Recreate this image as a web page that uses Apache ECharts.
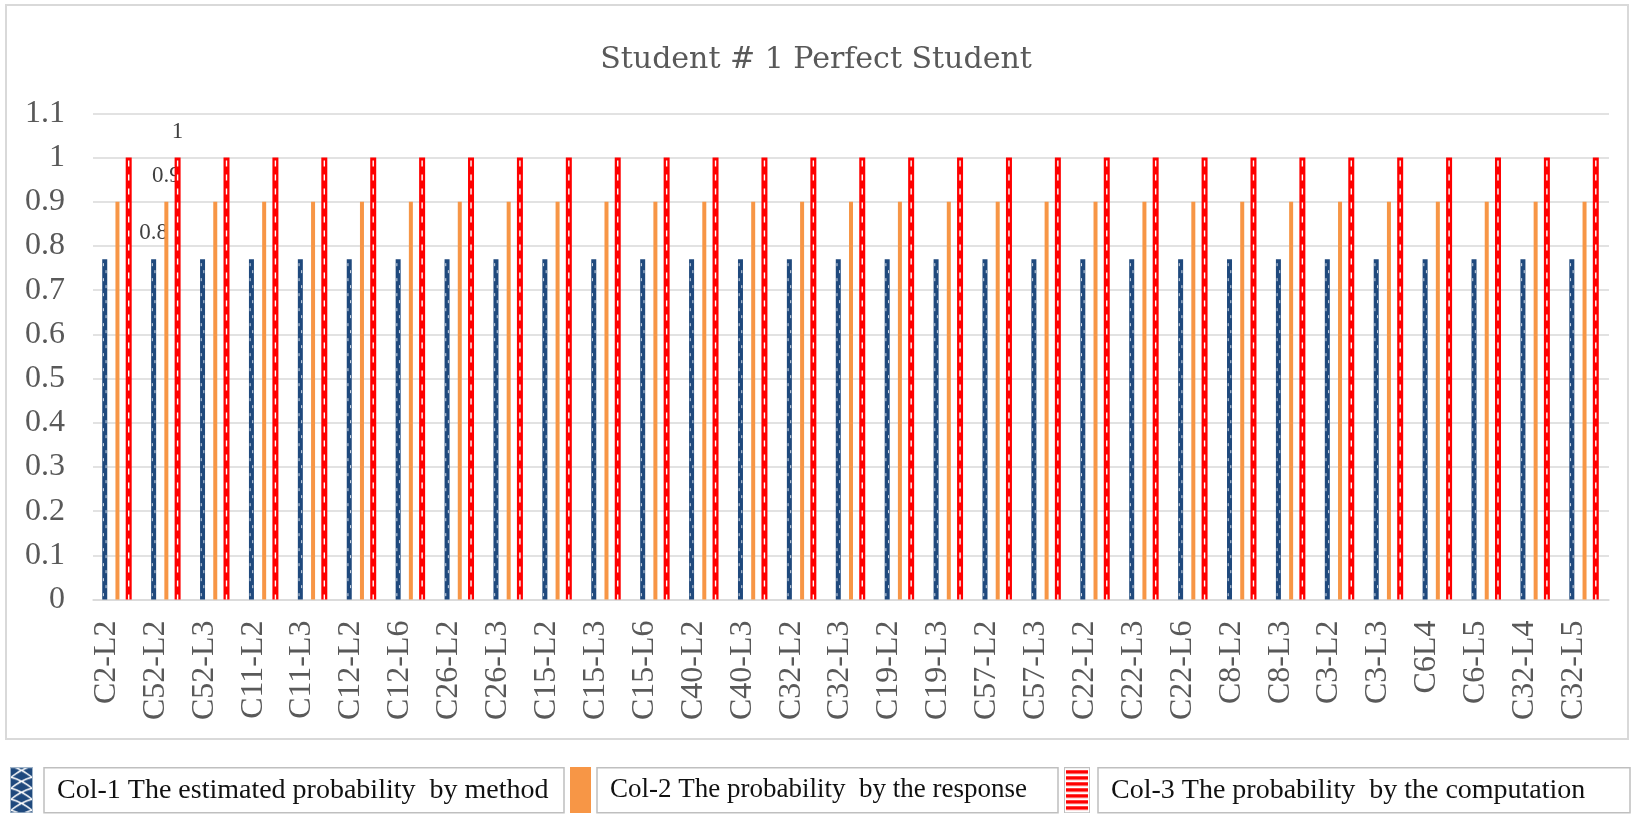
<!DOCTYPE html>
<html><head><meta charset="utf-8">
<script src="https://cdn.jsdelivr.net/npm/echarts@6/dist/echarts.min.js"></script>
<style>html,body{margin:0;padding:0;background:#fff}#c{width:1632px;height:814px}</style>
</head><body><div id="c"></div>
<script>
// ---- data ----
const categories = ['C2-L2','C52-L2','C52-L3','C11-L2','C11-L3','C12-L2','C12-L6','C26-L2','C26-L3','C15-L2','C15-L3','C15-L6','C40-L2','C40-L3','C32-L2','C32-L3','C19-L2','C19-L3','C57-L2','C57-L3','C22-L2','C22-L3','C22-L6','C8-L2','C8-L3','C3-L2','C3-L3','C6L4','C6-L5','C32-L4','C32-L5'];
const col1 = [0.77,0.77,0.77,0.77,0.77,0.77,0.77,0.77,0.77,0.77,0.77,0.77,0.77,0.77,0.77,0.77,0.77,0.77,0.77,0.77,0.77,0.77,0.77,0.77,0.77,0.77,0.77,0.77,0.77,0.77,0.77];
const col2 = [0.9,0.9,0.9,0.9,0.9,0.9,0.9,0.9,0.9,0.9,0.9,0.9,0.9,0.9,0.9,0.9,0.9,0.9,0.9,0.9,0.9,0.9,0.9,0.9,0.9,0.9,0.9,0.9,0.9,0.9,0.9];
const col3 = [1,1,1,1,1,1,1,1,1,1,1,1,1,1,1,1,1,1,1,1,1,1,1,1,1,1,1,1,1,1,1];
const seriesNames = ['Col-1 The estimated probability  by method','Col-2 The probability  by the response','Col-3 The probability  by the computation'];
const titleText = 'Student # 1 Perfect Student';
const yMin = 0, yMax = 1.1, yStep = 0.1;
const labelledIndex = 1;

// ---- styles ----
const STY = {
  c1: {offset:-0.26, w:5, color:'#1f497d'},
  c2: {offset:0, w:4, color:'#f79646'},
  c3: {offset:0.23, w:6, color:'#ff0000'}
};

function makeRender(key){
  const cfg = STY[key];
  return function(params, api){
    const i = api.value(0), v = api.value(1);
    const top = api.coord([i, v]);
    const base = api.coord([i, 0]);
    const band = api.size([1, 0])[0];
    const cx = top[0] + cfg.offset * band;
    const h = base[1] - top[1];
    const ch = [{type:'rect', shape:{x:cx - cfg.w/2, y:top[1], width:cfg.w, height:h}, style:{fill:cfg.color}}];
    if (key === 'c3') {
      ch.push({type:'line', shape:{x1:cx, y1:top[1]+3, x2:cx, y2:base[1]}, style:{stroke:'#fff', lineWidth:1.4, lineDash:[6,8]}});
    } else if (key === 'c1') {
      ch.push({type:'line', shape:{x1:cx-1.3, y1:top[1]+4, x2:cx-1.3, y2:base[1]}, style:{stroke:'#fff', lineWidth:0.8, lineDash:[3,12]}});
      ch.push({type:'line', shape:{x1:cx+1.3, y1:top[1]+11, x2:cx+1.3, y2:base[1]}, style:{stroke:'#fff', lineWidth:0.8, lineDash:[3,12]}});
    }
    if (params.dataIndex === labelledIndex) {
      ch.push({type:'text', style:{text:String(+v.toFixed(1)), x:cx, y:top[1]-26, align:'center', verticalAlign:'middle', fontSize:23, fontFamily:'Liberation Serif', fill:'#404040'}});
    }
    return {type:'group', children:ch};
  };
}

function icon(w, h, fn){
  const c = document.createElement('canvas'); c.width = w; c.height = h;
  const g = c.getContext('2d'); fn(g); return 'image://' + c.toDataURL();
}
const icon1 = icon(29, 46, g => {
  g.fillStyle = '#1f497d'; g.fillRect(0,0,23,46);
  g.strokeStyle = '#ffffff'; g.lineWidth = 1.6;
  for (let y = -12; y < 50; y += 11) {
    g.beginPath(); g.moveTo(1, y); g.quadraticCurveTo(12, y+3, 22, y+11); g.stroke();
    g.beginPath(); g.moveTo(22, y); g.quadraticCurveTo(11, y+3, 1, y+11); g.stroke();
  }
  g.strokeStyle = '#9fb3c8'; g.lineWidth = 1; g.strokeRect(0.5,0.5,22,45);
});
const icon2 = icon(22, 46, g => { g.fillStyle = '#f79646'; g.fillRect(0,0,21,46); });
const icon3 = icon(29, 46, g => {
  g.fillStyle = '#ffffff'; g.fillRect(0,0,26,46);
  g.fillStyle = '#ff0000';
  for (let y = 3; y < 44; y += 6) g.fillRect(2, y, 22, 3.5);
  g.strokeStyle = '#bfbfbf'; g.lineWidth = 1; g.strokeRect(0.5,0.5,25,45);
});

function legendCfg(name, left, iw, icn, boxW, fs){
  return {
    data:[{name:name, icon:icn}], left:left, top:767, padding:0, itemWidth:iw, itemHeight:46,
    selectedMode:false,
    textStyle:{fontFamily:'Liberation Serif', fontSize:fs, color:'#111', borderColor:'#bfbfbf', borderWidth:1.5,
      padding:[0,0,0,13], width:boxW-13, height:45, lineHeight:45, verticalAlign:'middle'}
  };
}

const gridTop = 113.3, gridBottom = 814 - 599.5;
const chart = echarts.init(document.getElementById('c'));
chart.setOption({
  animation:false,
  backgroundColor:'#ffffff',
  title:{text:titleText, left:'center', top:40, textStyle:{fontFamily:'DejaVu Serif', fontWeight:'normal', fontSize:30, color:'#595959'}},
  legend:[
    legendCfg(seriesNames[0], 10, 29, icon1, 520, 28),
    legendCfg(seriesNames[1], 570, 22, icon2, 461, 27),
    legendCfg(seriesNames[2], 1064, 29, icon3, 532, 28)
  ],
  grid:[
    {left:93, right:1632-1609, top:gridTop, bottom:gridBottom},
    {left:82, right:1632-1598, top:gridTop, bottom:gridBottom}
  ],
  xAxis:[
    {type:'category', gridIndex:0, data:categories, boundaryGap:true,
      axisLine:{lineStyle:{color:'#d9d9d9', width:1.5}}, axisTick:{show:false}, axisLabel:{show:false}},
    {type:'category', gridIndex:1, data:categories, boundaryGap:true,
      axisLine:{show:false}, axisTick:{show:false},
      axisLabel:{show:true, interval:0, rotate:90, margin:21, fontFamily:'Liberation Serif', fontSize:32, color:'#595959'}}
  ],
  yAxis:[
    {type:'value', gridIndex:0, min:yMin, max:yMax, interval:yStep,
      axisLine:{show:false}, axisTick:{show:false},
      splitLine:{lineStyle:{color:'#d9d9d9', width:1.5}},
      axisLabel:{margin:28, fontFamily:'Liberation Serif', fontSize:32, color:'#595959', padding:[4,0,0,0], formatter:v => String(+v.toFixed(1))}},
    {type:'value', gridIndex:1, min:yMin, max:yMax, show:false}
  ],
  graphic:[{type:'rect', z:-1, silent:true, shape:{x:6, y:5, width:1622, height:734}, style:{fill:null, stroke:'#d9d9d9', lineWidth:2}}],
  series:[
    {name:seriesNames[0], type:'custom', xAxisIndex:0, yAxisIndex:0, renderItem:makeRender('c1'), encode:{x:0, y:1}, data:col1.map((v,i)=>[i,v]), itemStyle:{color:'#1f497d'}},
    {name:seriesNames[1], type:'custom', xAxisIndex:0, yAxisIndex:0, renderItem:makeRender('c2'), encode:{x:0, y:1}, data:col2.map((v,i)=>[i,v]), itemStyle:{color:'#f79646'}},
    {name:seriesNames[2], type:'custom', xAxisIndex:0, yAxisIndex:0, renderItem:makeRender('c3'), encode:{x:0, y:1}, data:col3.map((v,i)=>[i,v]), itemStyle:{color:'#ff0000'}}
  ]
});
</script></body></html>
